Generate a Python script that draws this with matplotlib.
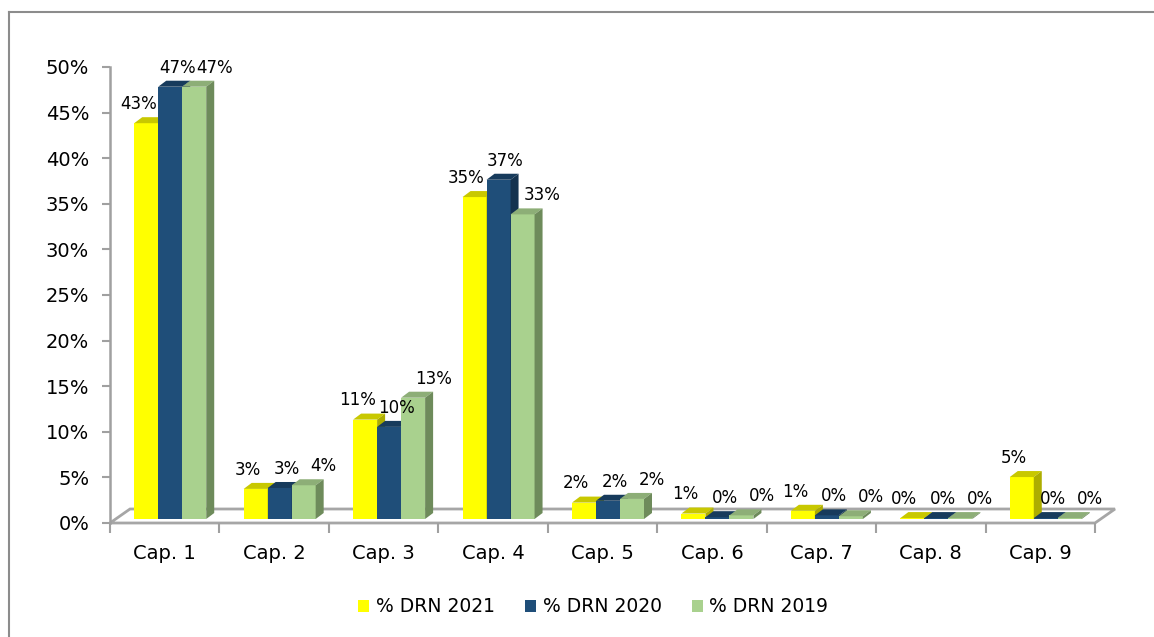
import numpy as np
import matplotlib
matplotlib.use("Agg")
import matplotlib.pyplot as plt
from matplotlib.patches import Polygon, Patch
from matplotlib.lines import Line2D

# --- data ---
categories = ["Cap. 1", "Cap. 2", "Cap. 3", "Cap. 4", "Cap. 5",
              "Cap. 6", "Cap. 7", "Cap. 8", "Cap. 9"]
drn_2021 = [43.4, 3.3, 10.9, 35.3, 1.8, 0.6, 0.9, 0.1, 4.6]
drn_2020 = [47.4, 3.4, 10.1, 37.2, 2.0, 0.2, 0.4, 0.1, 0.1]
drn_2019 = [47.4, 3.7, 13.3, 33.4, 2.2, 0.4, 0.3, 0.1, 0.1]
series_names = ["% DRN 2021", "% DRN 2020", "% DRN 2019"]
y_ticks = [0, 5, 10, 15, 20, 25, 30, 35, 40, 45, 50]

# front / top / side colours per series
face_cols = ["#FFFF00", "#1F4E79", "#A9D18E"]
top_cols = ["#C8C800", "#173B5C", "#8DAE77"]
side_cols = ["#ADAD00", "#14324F", "#6E8B5B"]
# label x offsets (pixels) like excel's 3d label placement
lab_dx = [-8, 7, 20]

W, H = 1154, 637
fig = plt.figure(figsize=(W / 100, H / 100), dpi=100)

# axes placed in pixels: x from 110 to 1095, 0% at y=523, 50% at y=67
ax_l, ax_r, ax_b, ax_t = 110, 1095, 523, 67
ax = fig.add_axes([ax_l / W, (H - ax_b) / H, (ax_r - ax_l) / W, (ax_b - ax_t) / H])
ax.set_xlim(-0.5, len(categories) - 0.5)
ax.set_ylim(0, 50)

# pixel -> data unit conversions
px_x = len(categories) / (ax_r - ax_l)
px_y = 50 / (ax_b - ax_t)

bar_w = 24 * px_x
shift_x = 5.5 * px_x      # bars sit a bit back on the floor
base = 4 * px_y
ddx, ddy = 8 * px_x, 6 * px_y   # bar depth
fdx, fdy = 20 * px_x, 14 * px_y  # floor depth

# floor
x0f, x1f = -0.5, len(categories) - 0.5
floor = Polygon([(x0f, 0), (x1f, 0), (x1f + fdx, fdy), (x0f + fdx, fdy)],
                closed=True, facecolor="white", edgecolor="#A6A6A6", lw=2,
                clip_on=False, zorder=1)
ax.add_patch(floor)

series = [drn_2021, drn_2020, drn_2019]
x = np.arange(len(categories))
z = 2
for i in range(len(categories)):
    for k, vals in enumerate(series):
        v = vals[i]
        xl = x[i] + shift_x + (k - 1) * bar_w - bar_w / 2
        xr = xl + bar_w
        top = base + v
        ax.bar(xl, v, width=bar_w, bottom=base, align="edge",
               color=face_cols[k], lw=0, zorder=z, clip_on=False)
        ax.add_patch(Polygon([(xl, top), (xr, top), (xr + ddx, top + ddy), (xl + ddx, top + ddy)],
                             closed=True, facecolor=top_cols[k], lw=0, zorder=z, clip_on=False))
        ax.add_patch(Polygon([(xr, base), (xr + ddx, base + ddy), (xr + ddx, top + ddy), (xr, top)],
                             closed=True, facecolor=side_cols[k], lw=0, zorder=z, clip_on=False))
        ax.annotate(f"{round(v)}%", (xl + bar_w / 2, top + ddy),
                    xytext=(lab_dx[k] * 0.72, 3), textcoords="offset points",
                    ha="center", va="bottom", fontsize=12, color="black", zorder=50)
        z += 1

# axes styling
for s in ["top", "right", "bottom"]:
    ax.spines[s].set_visible(False)
ax.spines["left"].set_color("#A0A0A0")
ax.spines["left"].set_linewidth(1.8)
ax.set_yticks(y_ticks)
ax.set_yticklabels([f"{t}%" for t in y_ticks])
ax.tick_params(axis="y", direction="out", length=6, width=1.5, color="#A0A0A0",
               labelsize=14, pad=9)
ax.set_xticks(x)
ax.set_xticklabels(categories)
ax.set_xticks(np.arange(-0.5, len(categories)), minor=True)
ax.tick_params(axis="x", which="major", length=0, labelsize=14, pad=15)
ax.tick_params(axis="x", which="minor", direction="out", length=7, width=1.5, color="#A0A0A0")
ax.patch.set_alpha(0)

# legend
handles = [Patch(facecolor=c, edgecolor="none") for c in face_cols]
fig.legend(handles, series_names, loc="center", bbox_to_anchor=(0.514, (H - 607) / H),
           ncol=3, frameon=False, fontsize=13.5, handlelength=0.6, handleheight=0.6,
           handletextpad=0.35, columnspacing=1.6)

# outer border (only top and left visible)
fig.add_artist(Line2D([9 / W, 1], [(H - 12) / H] * 2, color="#8C8C8C", lw=1.5))
fig.add_artist(Line2D([9 / W] * 2, [0, (H - 12) / H], color="#8C8C8C", lw=1.5))

fig.savefig("out.png", dpi=100)
